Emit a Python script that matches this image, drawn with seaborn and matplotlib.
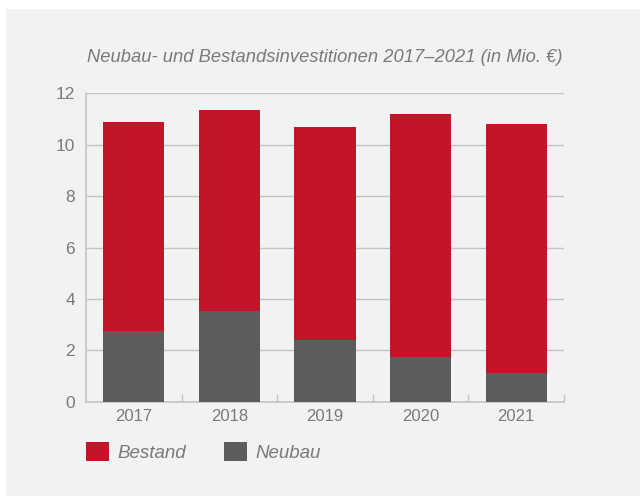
import pandas as pd
import seaborn as sns
import matplotlib.pyplot as plt
from matplotlib.patches import Patch, Rectangle

# values (Mio. EUR)
years = ["2017", "2018", "2019", "2020", "2021"]
neubau = [2.77, 3.53, 2.39, 1.73, 1.11]
bestand = [8.10, 7.81, 8.30, 9.47, 9.71]
yticks = [0, 2, 4, 6, 8, 10, 12]

red = "#c3152a"
grey = "#5c5c5a"
bg = "#f2f2f2"
line = "#c4c4c4"
txt = "#7a7a7a"

df = pd.DataFrame({"Jahr": years, "Neubau": neubau, "Bestand": bestand})
df["Gesamt"] = df["Neubau"] + df["Bestand"]

sns.set_theme(style="white")
plt.rcParams["font.family"] = ["Liberation Sans", "DejaVu Sans"]

fig = plt.figure(figsize=(6.4, 4.96), dpi=100)
fig.patch.set_facecolor("white")
fig.patches.append(Rectangle((6/640, 0), 1, 1 - 9/496, transform=fig.transFigure,
                             facecolor=bg, edgecolor="none", zorder=-10))

ax = fig.add_axes([86/640, 1 - 401.7/496, 478/640, 308.4/496])
ax.set_facecolor("none")

sns.barplot(data=df, x="Jahr", y="Gesamt", color=red, width=0.64,
            saturation=1, linewidth=0, ax=ax, zorder=3)
sns.barplot(data=df, x="Jahr", y="Neubau", color=grey, width=0.64,
            saturation=1, linewidth=0, ax=ax, zorder=4)

ax.set_xlim(-0.5, 4.5)
ax.set_ylim(0, 12)
ax.set_yticks(yticks)
ax.yaxis.grid(True, color=line, linewidth=1)
ax.set_axisbelow(True)
ax.set_xlabel("")
ax.set_ylabel("")

for s in ["top", "right"]:
    ax.spines[s].set_visible(False)
for s in ["left", "bottom"]:
    ax.spines[s].set_color(line)
    ax.spines[s].set_linewidth(1.2)

ax.set_xticks([0.5, 1.5, 2.5, 3.5, 4.5], minor=True)
ax.tick_params(axis="x", which="minor", bottom=True, direction="in", length=6, width=1, color=line)
ax.tick_params(axis="x", which="major", length=0, pad=5, labelsize=12, labelcolor=txt)
ax.tick_params(axis="y", length=0, pad=8, labelsize=12.5, labelcolor=txt)

fig.text(325/640, 1 - 58/496, "Neubau- und Bestandsinvestitionen 2017\u20132021 (in Mio. \u20ac)",
         ha="center", va="center", fontsize=13.2, style="italic", color=txt)

handles = [Patch(facecolor=red, edgecolor="none", label="Bestand"),
           Patch(facecolor=grey, edgecolor="none", label="Neubau")]
leg = fig.legend(handles=handles, loc="center left", bbox_to_anchor=(86/640, 1 - 452/496),
                 ncol=2, frameon=False, fontsize=13.5, handlelength=1.2, handleheight=1.2,
                 handletextpad=0.5, columnspacing=2.0, borderpad=0, borderaxespad=0)
for t in leg.get_texts():
    t.set_color(txt)
    t.set_style("italic")

fig.savefig("out.png", dpi=100)
